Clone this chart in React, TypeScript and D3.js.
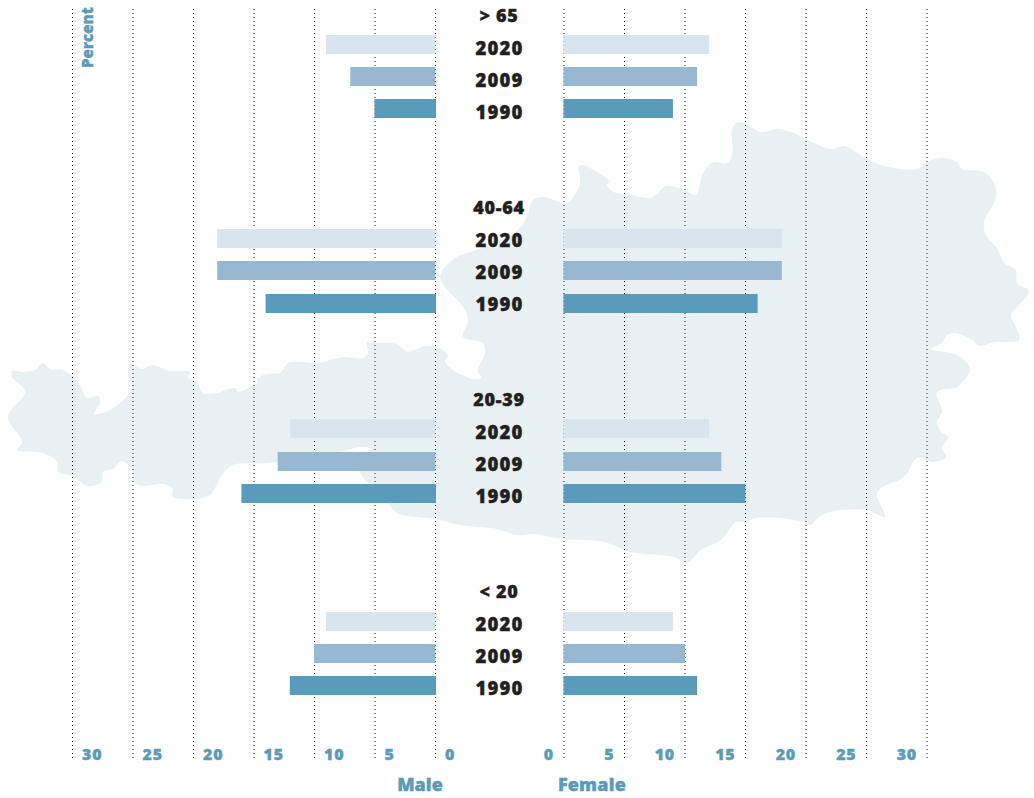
import React from "react";
import * as d3 from "d3";

const ageGroups = ["> 65", "40-64", "20-39", "< 20"];
const years = ["2020", "2009", "1990"];
const yearColors = ["#d8e4ee", "#98b8d1", "#5a9aba"];
const maleValues = [
  [9, 7, 5],
  [18, 18, 14],
  [12, 13, 16],
  [9, 10, 12],
];
const femaleValues = [
  [12, 11, 9],
  [18, 18, 16],
  [12, 13, 15],
  [9, 10, 11],
];
const ticks = [0, 5, 10, 15, 20, 25, 30];

// Decorative outline of Austria behind the chart
const outline: [number, number][] = [
  [12,371],[23,372],[35,370],[43,363],[50,369],[63,370],[75,378],[82,390],[87,398],[98,396],[100,403],[94,414],
  [110,410],[125,398],[132,387],[128,372],[130,364],[142,369],[152,365],[170,371],[190,372],[188,377],[197,382],
  [203,393],[217,393],[235,388],[238,392],[253,385],[258,383],[257,379],[267,374],[280,373],[288,363],[300,362],
  [317,363],[343,357],[363,358],[368,353],[367,342],[373,343],[397,344],[407,352],[425,346],[440,348],[448,356],
  [445,361],[453,370],[473,379],[481,378],[478,370],[485,353],[483,343],[463,337],[468,320],[463,307],[440,277],
  [455,258],[470,252],[495,243],[520,228],[527,217],[533,200],[542,197],[564,203],[569,202],[579,187],[580,177],
  [578,167],[582,165],[597,172],[609,181],[607,185],[614,192],[631,195],[649,198],[656,195],[666,186],[684,190],
  [696,195],[699,187],[702,175],[709,165],[714,162],[727,163],[732,155],[732,130],[736,123],[744,123],[761,132],
  [777,129],[791,132],[814,143],[831,149],[844,146],[864,157],[884,166],[917,169],[927,162],[941,158],[957,162],
  [962,169],[984,172],[994,183],[996,198],[984,222],[986,235],[997,248],[1004,263],[1016,270],[1017,283],[1029,291],
  [1021,303],[1011,315],[1016,327],[1019,340],[994,342],[979,346],[972,340],[956,333],[947,335],[942,343],[931,349],
  [957,355],[970,369],[957,387],[937,392],[942,412],[937,422],[942,433],[948,437],[942,448],[946,457],[934,462],
  [917,458],[904,477],[881,488],[877,495],[885,517],[867,510],[834,511],[819,517],[811,525],[804,522],[781,518],
  [757,518],[746,522],[736,522],[721,540],[701,550],[687,563],[674,557],[631,552],[604,542],[564,539],[533,534],
  [517,535],[497,529],[460,525],[435,519],[397,513],[388,503],[378,486],[366,481],[360,472],[357,460],[371,449],
  [362,447],[347,450],[333,455],[267,463],[233,465],[222,475],[210,495],[193,499],[173,497],[172,493],[173,489],
  [163,484],[143,486],[135,483],[132,470],[122,461],[113,469],[103,472],[102,482],[88,486],[72,476],[58,472],
  [57,462],[43,453],[17,450],[22,442],[8,417],[25,392],[12,377],
];

const BLUE = "#5b9bba";
const DARK = "#231f20";
const FONT = "'Open Sans', sans-serif";

const maleX = d3.scaleLinear().domain([0, 30]).range([435, 72]);
const femaleX = d3.scaleLinear().domain([0, 30]).range([564, 927]);
const headerY = d3.scaleLinear().domain([0, 3]).range([16, 592]);
const rowOffset = d3.scaleLinear().domain([0, 1]).range([0, 32]);
const barRowTop = [
  [35, 67, 99],
  [229, 261, 294],
  [419, 452, 484],
  [612, 644, 676],
];
const BAR_H = 19;
const CENTER = 499.5;

const mapPath = d3.line().curve(d3.curveCatmullRomClosed.alpha(0.5))(outline) as string;

const labelStyle = { fontFamily: FONT, fontWeight: 800, strokeWidth: 0.4, paintOrder: "stroke" } as const;

export default function App() {
  return (
    <svg
      width={1034}
      height={798}
      viewBox="0 0 1034 798"
      style={{ position: "absolute", left: 0, top: 0, display: "block", background: "#fff" }}
    >
      <path d={mapPath} fill="#e9f0f4" />

      {ticks.map((t) => (
        <g key={t}>
          <line x1={maleX(t) + 0.5} x2={maleX(t) + 0.5} y1={9} y2={759} stroke={DARK} strokeDasharray="1 3" />
          <line x1={femaleX(t)} x2={femaleX(t)} y1={9} y2={759} stroke={DARK} strokeDasharray="1 3" />
        </g>
      ))}

      {ageGroups.map((group, g) => (
        <g key={group}>
          {years.map((year, i) => {
            const y = barRowTop[g][i];
            const m = maleValues[g][i];
            const f = femaleValues[g][i];
            return (
              <g key={year}>
                <rect x={maleX(m)} y={y} width={maleX(0) - maleX(m) + (i === 2 ? 1 : 0.5)} height={BAR_H} fill={yearColors[i]} />
                <rect x={femaleX(0) - 0.5} y={y} width={femaleX(f) - femaleX(0) + 0.5} height={BAR_H} fill={yearColors[i]} />
                <text
                  x={CENTER}
                  y={headerY(g) + rowOffset(i + 1) + 7}
                  textAnchor="middle"
                  fontSize={18.5}
                  letterSpacing={1.1}
                  fill={DARK}
                  stroke={DARK}
                  {...labelStyle}
                >
                  {year}
                </text>
              </g>
            );
          })}
          <text
            x={CENTER - 0.5}
            y={headerY(g) + 6}
            textAnchor="middle"
            fontSize={18}
            letterSpacing={0.7}
            fill={DARK}
            stroke={DARK}
            {...labelStyle}
          >
            {group}
          </text>
        </g>
      ))}

      {ticks.map((t) => (
        <g key={t}>
          <text x={maleX(t) + 10} y={759.5} fontSize={16} letterSpacing={0.8} fill={BLUE} stroke={BLUE} {...labelStyle}>
            {t}
          </text>
          <text x={femaleX(t) - 10} y={760} textAnchor="end" fontSize={16} letterSpacing={0.8} fill={BLUE} stroke={BLUE} {...labelStyle}>
            {t}
          </text>
        </g>
      ))}

      <text x={420} y={791} textAnchor="middle" fontSize={18} fill={BLUE} stroke={BLUE} {...labelStyle}>
        Male
      </text>
      <text x={592} y={791} textAnchor="middle" fontSize={18} letterSpacing={0.2} fill={BLUE} stroke={BLUE} {...labelStyle}>
        Female
      </text>
      <text transform="translate(93,68) rotate(-90)" fontSize={15} letterSpacing={0.1} fill={BLUE} stroke={BLUE} {...labelStyle}>
        Percent
      </text>
    </svg>
  );
}
